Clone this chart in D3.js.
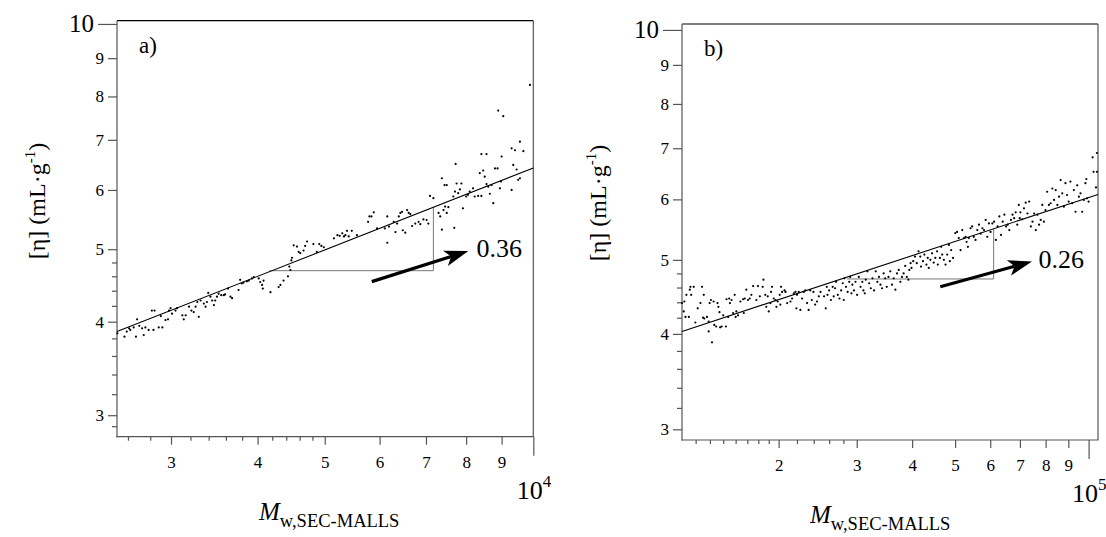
<!DOCTYPE html>
<html><head><meta charset="utf-8">
<script src="https://cdn.jsdelivr.net/npm/d3@7"></script>
<style>
body{margin:0;background:#fff}
svg{display:block}
</style>
</head><body>
<svg id="chart" width="1106" height="537" style="font-family:'Liberation Serif','DejaVu Serif','Times New Roman',serif"></svg>
<script>
// ---------------- Panel a data ----------------
const aM = [2510,2570,2590,2610,2620,2650,2670,2680,2700,2725,
2740,2755,2785,2815,2840,2830,2880,2900,2915,2945,
2970,2980,2995,3010,3045,3060,3115,3130,3150,3185,
3210,3235,3255,3275,3290,3310,3345,3365,3380,3395,
3420,3440,3460,3475,3495,3515,3545,3575,3590,3625,
3655,3675,3755,3775,3795,3815,3860,3885,3925,3950,
4015,4035,4060,4070,4080,4175,4290,4315,4360,4425,
4445,4460,4475,4485,4510,4560,4585,4610,4660,4685,
4715,4815,4870,4910,4945,4985,5155,5215,5255,5300,
5330,5355,5385,5415,5470,5565,5775,5800,5840,5885,
5950,6105,6155,6155,6190,6290,6325,6360,6395,6430,
6465,6480,6535,6575,6610,6645,6685,6755,6830,6870,
6940,7015,7055,7095,7175,7300,7340,7380,7380,7420,
7445,7460,7500,7500,7540,7665,7690,7710,7725,7750,
7790,7835,7875,7915,8000,8045,8095,8185,8230,8325,
8370,8415,8415,8465,8510,8560,8560,8610,8655,8705,
8755,8805,8880,8900,8950,8980,9000,9050,9305,9305,
9355,9410,9460,9510,9565,9565,9675,9890];
const aEta = [3.86,3.82,3.88,3.92,3.90,3.93,3.82,4.03,3.95,3.92,
3.84,3.93,3.90,4.14,4.14,3.90,3.93,4.07,3.93,4.02,
4.03,4.14,4.17,4.10,4.14,4.17,4.08,4.03,4.08,4.19,
4.14,4.12,4.19,4.25,4.06,4.27,4.23,4.19,4.25,4.37,
4.32,4.27,4.21,4.27,4.32,4.36,4.34,4.34,4.35,4.43,
4.32,4.30,4.41,4.55,4.50,4.51,4.53,4.54,4.57,4.59,
4.57,4.52,4.48,4.43,4.54,4.38,4.45,4.48,4.54,4.60,
4.74,4.69,4.83,4.87,5.06,5.04,4.96,4.94,4.98,5.05,
5.12,5.08,4.96,5.08,5.05,5.03,5.17,5.22,5.21,5.25,
5.20,5.22,5.29,5.20,5.29,5.22,5.44,5.53,5.53,5.60,
5.33,5.33,5.10,5.53,5.36,5.44,5.27,5.41,5.53,5.59,
5.61,5.30,5.26,5.64,5.59,5.57,5.37,5.41,5.44,5.40,
5.48,5.47,5.41,5.89,5.85,5.59,5.53,6.22,5.31,5.64,
6.09,5.70,6.09,5.59,5.69,5.88,5.34,5.97,6.50,6.12,
5.94,6.01,6.12,5.67,5.88,5.91,5.97,6.03,5.88,5.89,
6.32,5.89,6.70,6.37,6.25,6.70,6.11,6.06,5.93,6.09,
5.76,6.41,6.41,7.66,6.03,6.16,6.65,7.53,6.00,6.82,
6.48,6.78,6.39,6.19,6.96,6.22,6.76,8.29];
const aFitM = [2507, 10000];
const aFitEta = [3.88, 6.42];
const aTriM = [4160, 7175, 7175];
const aTriEta = [4.68, 4.68, 5.69];
const aArrowM = [5846, 8058];
const aArrowEta = [4.525, 4.972];
const aSlope = {text: "0.36", M: 8281, eta: 4.877};

// ---------------- Panel b data ----------------
const bM = [12110,12220,12260,12330,12390,12550,12610,12650,12700,12870,
12980,13140,13330,13440,13510,13560,13600,13790,13910,13910,
13980,14070,14150,14270,14320,14460,14560,14630,14710,14760,
14880,15000,15210,15260,15390,15470,15530,15660,15790,15920,
16000,16060,16200,16400,16630,16690,16770,16910,17060,17210,
17360,17520,17820,17970,18140,18410,18480,18660,18760,18900,
19000,19170,19230,19330,19500,19670,19770,19900,20110,20180,
20250,20360,20620,20730,20910,21270,21450,21640,21820,21930,
22000,22200,22390,22590,22780,22980,23180,23370,23570,23760,
23960,24180,24410,24640,24860,25320,25550,25680,25770,26000,
26240,26480,26620,26810,26950,27190,27430,27670,27900,28050,
28140,28380,28620,28860,29000,29190,29330,29570,29810,30060,
30330,30610,30890,31060,31280,31440,31720,32000,32280,32560,
32830,33110,33390,33670,33940,34220,34500,34780,35060,35380,
35710,36030,36350,36670,36990,37310,37630,37950,38270,38590,
38910,39230,39420,39680,39870,40230,40600,40980,41350,41730,
41880,42330,42630,43080,43380,43610,43980,44360,44740,45120,
45530,45700,46190,46520,46760,47170,47580,48000,48410,48650,
48980,49470,50050,50510,50970,51430,51890,52340,52800,53080,
53440,53720,54180,54630,55100,55600,56100,56600,57100,57600,
58100,58600,59100,59600,60110,60670,61230,61790,62350,62910,
63460,64020,64580,65140,65700,66260,66820,67370,67930,68490,
69050,69610,69940,70190,70840,71490,72140,72790,73440,74090,
74740,75380,76030,76680,77330,77980,78630,79270,79930,80640,
81370,82100,82840,83570,84300,85030,85760,86490,87220,87950,
88680,89420,90160,90980,91800,92620,93440,94260,95080,95900,
96720,97540,98360,98850,99180,100000,102100,102600,103900,104400,
104400];
const bEta = [4.39,4.28,4.41,4.21,4.50,4.21,4.57,4.61,4.50,4.61,
4.14,4.32,4.39,4.61,4.20,4.50,4.19,4.21,4.15,4.03,
4.39,4.43,3.90,4.41,4.11,4.09,4.39,4.34,4.27,4.08,
4.09,4.23,4.09,4.44,4.21,4.45,4.39,4.43,4.26,4.50,
4.21,4.28,4.23,4.41,4.44,4.26,4.45,4.57,4.43,4.45,
4.50,4.62,4.43,4.62,4.48,4.61,4.71,4.50,4.34,4.48,
4.28,4.39,4.54,4.61,4.45,4.43,4.34,4.41,4.50,4.37,
4.61,4.54,4.56,4.54,4.39,4.41,4.45,4.52,4.54,4.32,
4.50,4.54,4.30,4.45,4.54,4.56,4.39,4.30,4.56,4.43,
4.54,4.37,4.41,4.48,4.54,4.48,4.32,4.61,4.50,4.56,
4.43,4.61,4.48,4.59,4.68,4.50,4.45,4.56,4.66,4.43,
4.73,4.61,4.54,4.68,4.75,4.52,4.64,4.56,4.68,4.50,
4.75,4.61,4.68,4.56,4.52,4.71,4.83,4.66,4.59,4.73,
4.56,4.83,4.68,4.75,4.64,4.59,4.80,4.73,4.61,4.75,
4.83,4.64,4.73,4.57,4.80,4.85,4.68,4.75,4.80,4.91,
4.75,4.71,4.85,4.95,4.88,4.98,5.05,4.95,5.13,5.05,
4.90,4.98,5.08,4.93,5.03,4.88,5.00,5.10,4.96,5.03,
5.13,4.93,5.03,5.20,5.08,5.00,4.93,5.08,5.23,4.98,
5.15,5.03,5.42,5.44,5.34,5.15,5.47,5.34,5.36,5.28,
5.20,5.34,5.50,5.53,5.36,5.31,5.47,5.56,5.41,5.50,
5.47,5.64,5.36,5.58,5.44,5.58,5.61,5.31,5.53,5.70,
5.39,5.61,5.73,5.53,5.56,5.47,5.64,5.73,5.67,5.77,
5.56,5.90,5.67,5.77,5.65,5.84,5.94,5.75,5.96,5.53,
5.61,5.75,5.47,5.73,5.56,5.64,5.90,5.61,5.81,6.14,
5.90,5.93,6.20,5.99,6.17,5.90,6.05,6.36,6.11,5.87,
6.30,6.08,5.96,6.33,5.93,6.17,5.78,6.26,6.05,6.11,
5.78,5.99,6.30,6.38,6.02,5.96,6.81,6.52,6.22,6.90,
6.52];
const bFitM = [12110, 105000];
const bFitEta = [4.03, 6.09];
const bTriM = [28520, 61080, 61080];
const bTriEta = [4.72, 4.72, 5.49];
const bArrowM = [46300, 74540];
const bArrowEta = [4.61, 4.975];
const bSlope = {text: "0.26", M: 77130, eta: 4.875};

// ---------------- Tick values ----------------
const aXMajor = [3000,4000,5000,6000,7000,8000,9000];
const aXMinor = [2600,2800,3200,3400,3600,3800,4200,4400,4600,4800];
const aXDecade = [10000];
const aXDecadeLabel = ["10", "4"];
const bXMajor = [20000,30000,40000,50000,60000,70000,80000,90000];
const bXMinor = [13000,14000,15000,16000,17000,18000,19000,22000,24000,26000,28000];
const bXDecade = [100000];
const bXDecadeLabel = ["10", "5"];
const yMajor = [3,4,5,6,7,8,9];
const yMinor = [2.9,3.2,3.4,3.6,3.8,4.2,4.4,4.6,4.8];
const yDecade = [10];

const FONT = "'Liberation Serif','DejaVu Serif','Times New Roman',serif";

const panels = [
  {id:"a", label:"a)", M:aM, eta:aEta, fitM:aFitM, fitEta:aFitEta, triM:aTriM, triEta:aTriEta,
   arrowM:aArrowM, arrowEta:aArrowEta, slope:aSlope, xDiv:1000,
   xDomain:[2507,10000], yDomain:[2.808,10.1],
   box:{l:117, r:533.3, t:20.7, b:436.7},
   xMajor:aXMajor, xMinor:aXMinor, xDecade:aXDecade, xDecadeLabel:aXDecadeLabel,
   ylabX:45, ylabY:201, xlabX:259},
  {id:"b", label:"b)", M:bM, eta:bEta, fitM:bFitM, fitEta:bFitEta, triM:bTriM, triEta:bTriEta,
   arrowM:bArrowM, arrowEta:bArrowEta, slope:bSlope, xDiv:10000,
   xDomain:[12110,105000], yDomain:[2.905,10.18],
   box:{l:682, r:1098, t:24, b:440},
   xMajor:bXMajor, xMinor:bXMinor, xDecade:bXDecade, xDecadeLabel:bXDecadeLabel,
   ylabX:606, ylabY:203, xlabX:810}
];

const svg = d3.select("#chart");
const axisColor = "#555";

function styleAxis(s){
  s.attr("font-family", FONT);
  s.select(".domain").remove();
  s.selectAll("line").attr("stroke",axisColor).attr("stroke-width",1.2);
  s.selectAll("text").style("font-family", FONT).attr("fill","#000");
}

panels.forEach(p => {
  const B = p.box;
  const x = d3.scaleLog().domain(p.xDomain).range([B.l, B.r]);
  const y = d3.scaleLog().domain(p.yDomain).range([B.b, B.t]);
  const g = svg.append("g").style("font-family", FONT);

  g.append("line").attr("x1",B.l).attr("x2",B.r).attr("y1",B.t).attr("y2",B.t)
    .attr("stroke","#000").attr("stroke-width",1.2);
  g.append("line").attr("x1",B.r).attr("x2",B.r).attr("y1",B.t).attr("y2",B.b)
    .attr("stroke",axisColor).attr("stroke-width",1.2);

  // y axis
  const yAx = g.append("g").attr("transform",`translate(${B.l},0)`)
    .call(d3.axisLeft(y).tickValues(yMajor).tickSize(9).tickPadding(4).tickFormat(d3.format("d")));
  const yMin = g.append("g").attr("transform",`translate(${B.l},0)`)
    .call(d3.axisLeft(y).tickValues(yMinor.filter(v=>v>=p.yDomain[0])).tickSize(5).tickFormat(""));
  const yDec = g.append("g").attr("transform",`translate(${B.l},0)`)
    .call(d3.axisLeft(y).tickValues(yDecade).tickSize(19).tickPadding(4).tickFormat(d3.format("d")));
  [yAx,yMin,yDec].forEach(styleAxis);
  yAx.selectAll("text").style("font-size","17px");
  yDec.selectAll("text").style("font-size","25px");
  g.append("line").attr("x1",B.l).attr("x2",B.l).attr("y1",B.t).attr("y2",B.b+0.6)
    .attr("stroke",axisColor).attr("stroke-width",1.2);

  // x axis
  const xAx = g.append("g").attr("transform",`translate(0,${B.b})`)
    .call(d3.axisBottom(x).tickValues(p.xMajor).tickSize(8).tickPadding(11).tickFormat(d=>d3.format("d")(d/p.xDiv)));
  const xMin = g.append("g").attr("transform",`translate(0,${B.b})`)
    .call(d3.axisBottom(x).tickValues(p.xMinor).tickSize(4).tickFormat(""));
  const xDec = g.append("g").attr("transform",`translate(0,${B.b})`)
    .call(d3.axisBottom(x).tickValues(p.xDecade).tickSize(19).tickFormat(""));
  [xAx,xMin,xDec].forEach(styleAxis);
  xAx.selectAll("text").style("font-size","17px");
  g.append("line").attr("x1",B.l-0.6).attr("x2",B.r+0.6).attr("y1",B.b).attr("y2",B.b)
    .attr("stroke",axisColor).attr("stroke-width",1.2);

  const dx = x(p.xDecade[0]);
  const dl = g.append("text").attr("x",dx-16.5).attr("y",B.b+62).style("font-size","26px");
  dl.append("tspan").text(p.xDecadeLabel[0]);
  dl.append("tspan").attr("dy",-12).style("font-size","17px").text(p.xDecadeLabel[1]);

  const xt = g.append("text").attr("x",p.xlabX).attr("y",B.b+83);
  xt.append("tspan").style("font-style","italic").style("font-size","25px").text("M");
  xt.append("tspan").attr("dy",7).style("font-size","18.5px").text("w,SEC-MALLS");

  const yt = g.append("text").attr("transform",`translate(${p.ylabX},${p.ylabY}) rotate(-90)`)
    .attr("text-anchor","middle").style("font-size","24px");
  yt.append("tspan").text("[\u03B7] (mL\u00B7g");
  yt.append("tspan").attr("dy",-10).style("font-size","15px").text("-1");
  yt.append("tspan").attr("dy",10).text(")");

  g.append("text").attr("x",B.l+22).attr("y",B.t+32).style("font-size","23px").text(p.label);

  const lineGen = d3.line().x(d=>x(d[0])).y(d=>y(d[1]));
  g.append("path").datum(p.triM.map((m,i)=>[m,p.triEta[i]]))
    .attr("d",lineGen).attr("fill","none").attr("stroke","#777").attr("stroke-width",1);
  g.append("path").datum(p.fitM.map((m,i)=>[m,p.fitEta[i]]))
    .attr("d",lineGen).attr("fill","none").attr("stroke","#000").attr("stroke-width",1.1);

  g.append("g").selectAll("circle").data(p.M.map((m,i)=>[m,p.eta[i]])).join("circle")
    .attr("cx",d=>x(d[0])).attr("cy",d=>y(d[1])).attr("r",1.1).attr("fill","#000");

  const x0 = x(p.arrowM[0]), y0 = y(p.arrowEta[0]);
  const x1 = x(p.arrowM[1]), y1 = y(p.arrowEta[1]);
  const ang = Math.atan2(y1-y0, x1-x0);
  const hl = 24, hw = 8, notch = 6;
  const ux = Math.cos(ang), uy = Math.sin(ang), nx = -uy, ny = ux;
  const bx = x1 - ux*hl, by = y1 - uy*hl;
  g.append("line").attr("x1",x0).attr("y1",y0).attr("x2",bx+ux*notch).attr("y2",by+uy*notch)
    .attr("stroke","#000").attr("stroke-width",3.2);
  g.append("path").attr("d",`M${x1},${y1} L${bx+nx*hw},${by+ny*hw} L${bx+ux*notch},${by+uy*notch} L${bx-nx*hw},${by-ny*hw} Z`)
    .attr("fill","#000");
  g.append("text").attr("x",x(p.slope.M)).attr("y",y(p.slope.eta)).style("font-size","26px").text(p.slope.text);
});
</script>
</body></html>
